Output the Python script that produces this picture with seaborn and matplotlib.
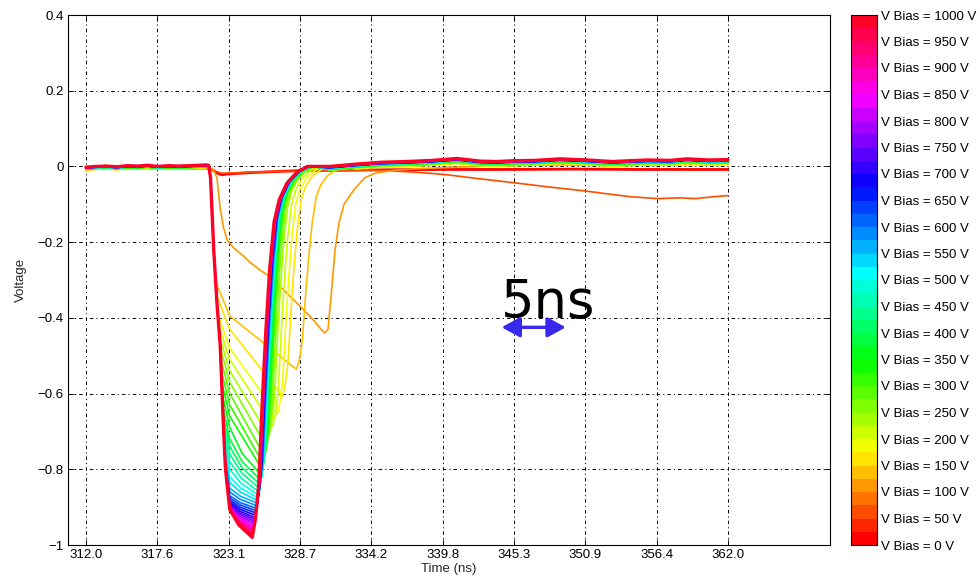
import colorsys
import numpy as np
import pandas as pd
import matplotlib
matplotlib.use("Agg")
import matplotlib.pyplot as plt
import matplotlib.cm as cm
from matplotlib.colors import ListedColormap, Normalize
import seaborn as sns

# ---------------------------------------------------------------- data
# Shared pieces of the pulse shape (time in ns, voltage in V)
pre_t = [312.0, 312.8, 313.6, 314.4, 315.2, 316.0, 316.8, 317.6, 318.4, 319.2, 320.0, 320.8, 321.3]
pre_v = [-0.002, 0.000, 0.001, -0.001, 0.002, 0.001, 0.003, 0.000, 0.002, 0.001, 0.002, 0.003, 0.004]

edge_t = [321.55, 321.70, 321.95, 322.20, 322.45, 322.70, 322.85, 323.05, 323.20]
edge_v = [0.003, -0.03, -0.22, -0.36, -0.47, -0.68, -0.79, -0.87, -0.906]

rise_dt = [0.25, 0.50, 0.80, 1.05, 1.35, 1.70, 2.10, 2.70, 3.50, 4.30]
rise_f = [0.95, 0.86, 0.62, 0.45, 0.28, 0.15, 0.09, 0.045, 0.015, 0.0]

tail_t = [331.0, 333.0, 335.0, 337.0, 339.0, 340.9, 342.7, 344.0, 345.3, 347.0, 348.9,
          351.0, 353.0, 355.7, 357.5, 358.8, 360.5, 362.0]
tail_v = [0.000, 0.006, 0.011, 0.013, 0.016, 0.021, 0.014, 0.013, 0.015, 0.016, 0.020,
          0.017, 0.013, 0.017, 0.016, 0.020, 0.017, 0.018]

# Pulses from 125 V to 1000 V
bias = list(range(125, 1001, 25))
level_at_323 = [-0.395, -0.43, -0.48, -0.51, -0.54, -0.57, -0.60, -0.63, -0.66, -0.69,
                -0.72, -0.74, -0.76, -0.78, -0.80, -0.82, -0.835, -0.85, -0.86, -0.87,
                -0.876, -0.882, -0.887, -0.891, -0.894, -0.897, -0.899, -0.901, -0.902, -0.903,
                -0.904, -0.905, -0.905, -0.906, -0.906, -0.906]
peak_v = [-0.536, -0.607, -0.655, -0.686, -0.713, -0.740, -0.765, -0.785, -0.800, -0.815,
          -0.828, -0.840, -0.850, -0.860, -0.868, -0.875, -0.882, -0.889, -0.896, -0.903,
          -0.909, -0.915, -0.921, -0.927, -0.932, -0.937, -0.942, -0.947, -0.952, -0.956,
          -0.960, -0.964, -0.968, -0.972, -0.976, -0.980]
peak_t = [328.40, 327.30, 326.90, 326.55, 326.25, 326.05, 325.90, 325.80, 325.72, 325.65,
          325.60, 325.55, 325.50, 325.46, 325.42, 325.38, 325.35, 325.32, 325.29, 325.26,
          325.23, 325.20, 325.17, 325.15, 325.13, 325.11, 325.09, 325.07, 325.05, 325.03,
          325.01, 325.00, 324.99, 324.98, 324.96, 324.95]
rise_width = [0.90, 0.85, 0.85, 0.85, 0.85, 0.88, 0.88, 0.90, 0.90, 0.92,
              0.92, 0.92, 0.94, 0.94, 0.94, 0.95, 0.95, 0.95, 0.96, 0.96,
              0.96, 0.97, 0.97, 0.97, 0.98, 0.98, 0.98, 0.98, 0.99, 0.99,
              0.99, 0.99, 1.00, 1.00, 1.00, 1.00]
baseline_off = [-0.013, -0.012, -0.011, -0.010, -0.0095, -0.009, -0.0085, -0.008, -0.0075, -0.007,
                -0.0065, -0.006, -0.0055, -0.005, -0.0048, -0.0045, -0.0042, -0.004, -0.0037, -0.0035,
                -0.0032, -0.003, -0.0027, -0.0025, -0.0022, -0.002, -0.0018, -0.0015, -0.0013, -0.001,
                -0.0008, -0.0006, -0.0004, -0.0002, -0.0001, 0.0]

# Low-bias traces
v0_t = [312.0, 314.0, 316.0, 318.0, 320.0, 321.5, 321.9, 322.3, 322.6, 323.0, 325.0, 328.7,
        332.0, 335.0, 340.0, 345.0, 350.0, 355.0, 360.0, 362.0]
v0_v = [-0.004, -0.003, -0.002, -0.003, -0.002, -0.003, -0.010, -0.019, -0.022, -0.020, -0.016,
        -0.011, -0.010, -0.009, -0.008, -0.008, -0.007, -0.008, -0.008, -0.008]

v50_t = [312.0, 316.0, 320.0, 321.5, 322.0, 322.6, 323.5, 326.0, 330.0, 334.9, 337.5, 339.85,
         342.5, 345.3, 348.0, 350.9, 352.5, 354.4, 356.5, 358.3, 359.5, 360.9, 362.0]
v50_v = [-0.006, -0.005, -0.006, -0.006, -0.012, -0.018, -0.017, -0.014, -0.012, -0.010, -0.015,
         -0.021, -0.032, -0.043, -0.054, -0.065, -0.072, -0.080, -0.085, -0.083, -0.085, -0.080, -0.077]

v100_t = [312.0, 316.0, 320.0, 321.6, 321.9, 322.2, 322.45, 322.7, 323.0, 323.5, 324.2, 324.8,
          325.6, 326.3, 327.5, 328.7, 329.7, 330.3, 330.6, 330.85, 331.1, 331.4, 331.7, 332.1,
          332.8, 333.7, 334.6, 336.0, 338.0, 340.0, 344.0, 348.0, 352.0, 356.0, 360.0, 362.0]
v100_v = [-0.006, -0.005, -0.006, -0.006, -0.008, -0.03, -0.11, -0.16, -0.195, -0.215, -0.235, -0.254,
          -0.275, -0.29, -0.33, -0.37, -0.405, -0.43, -0.44, -0.43, -0.34, -0.22, -0.15, -0.10,
          -0.065, -0.03, -0.017, -0.010, -0.006, -0.003, 0.002, 0.004, 0.004, 0.005, 0.005, 0.006]

x_tick_labels = ["312.0", "317.6", "323.1", "328.7", "334.2", "339.8", "345.3", "350.9", "356.4", "362.0"]
y_ticks = [0.4, 0.2, 0.0, -0.2, -0.4, -0.6, -0.8, -1.0]
y_tick_labels = ["0.4", "0.2", "0", "\u22120.2", "\u22120.4", "\u22120.6", "\u22120.8", "\u22121"]
cbar_ticks = list(range(0, 1001, 50))
scale_ns = 5.0

# ---------------------------------------------------------------- traces
rows = []


def add_trace(volts, ts, vs):
    for t, v in zip(ts, vs):
        rows.append({"t": t, "v": v, "bias": str(volts)})


add_trace(0, v0_t, v0_v)
add_trace(50, v50_t, v50_v)
add_trace(100, v100_t, v100_v)

edge_t_arr = np.array(edge_t)
edge_v_arr = np.array(edge_v)
for V, k323, vm, tm, w, off in zip(bias, level_at_323, peak_v, peak_t, rise_width, baseline_off):
    ts = list(pre_t)
    vs = [p + 0.6 * off for p in pre_v]
    dep = k323 + 0.09
    keep = edge_v_arr > dep
    ts += list(edge_t_arr[keep])
    vs += list(edge_v_arr[keep])
    ts.append(float(np.interp(dep, edge_v_arr[::-1], edge_t_arr[::-1])))
    vs.append(dep)
    ts.append(323.2)
    vs.append(k323)
    # short pulses have a slightly rounded floor, long ones a straight slope
    floor_frac = 0.55 if tm - 323.2 < 2.5 else 0.4
    ts.append(323.2 + 0.4 * (tm - 323.2))
    vs.append(k323 + floor_frac * (vm - k323))
    ts.append(tm)
    vs.append(vm)
    for dt, f in zip(rise_dt, rise_f):
        ts.append(tm + w * dt)
        vs.append(vm * f)
    end = tm + w * rise_dt[-1]
    for t, v in zip(tail_t, tail_v):
        if t > end + 0.6:
            ts.append(t)
            vs.append(v + off)
    add_trace(V, ts, vs)

df = pd.DataFrame(rows)
order = [str(v) for v in [0, 50, 100] + bias]

n_colors = 40
cmap = ListedColormap([colorsys.hsv_to_rgb(i / n_colors, 1.0, 1.0) for i in range(n_colors)])
norm = Normalize(0, 1000)
palette = {k: cmap(norm(float(k))) for k in order}

# ---------------------------------------------------------------- figure
sns.set_theme(style="white")
plt.rcParams["font.family"] = ["Liberation Sans", "DejaVu Sans"]
plt.rcParams["lines.scale_dashes"] = False

fig = plt.figure(figsize=(9.8, 5.8), dpi=100)
ax = fig.add_axes([68 / 980, 35 / 580, 762 / 980, 530 / 580])
cax = fig.add_axes([851 / 980, 35 / 580, 26 / 980, 530 / 580])

sns.lineplot(data=df, x="t", y="v", hue="bias", hue_order=order, palette=palette,
             estimator=None, sort=False, legend=False, linewidth=1.2, ax=ax)
ax.lines[0].set_linewidth(2.0)
ax.lines[-1].set_linewidth(2.4)

x_ticks = np.linspace(312.0, 362.0, len(x_tick_labels))
ax.set_xlim(310.6, 369.95)
ax.set_ylim(-1.0, 0.4)
ax.set_xticks(x_ticks)
ax.set_xticklabels(x_tick_labels)
ax.set_yticks(y_ticks)
ax.set_yticklabels(y_tick_labels)
ax.grid(True, color="black", linestyle=(0, (2.5, 2.2, 0.8, 2.2)), linewidth=0.7)
ax.tick_params(direction="in", length=4, width=0.6, top=True, right=True, bottom=True, left=True,
               labelsize=9.5, colors="black", pad=3)
for s in ax.spines.values():
    s.set_color("black")
    s.set_linewidth(0.8)
ax.set_xlabel("Time (ns)", fontsize=9.5, labelpad=1)
ax.set_ylabel("Voltage", fontsize=9.5, labelpad=8)

# scale marker
cx, cy = 346.87, -0.425
ax.text(348.0, -0.399, "5ns", fontsize=38, family="DejaVu Sans", ha="center", va="baseline",
        color="black")
ax.annotate("", xy=(cx + scale_ns / 2, cy), xytext=(cx - scale_ns / 2, cy),
            arrowprops=dict(arrowstyle="<|-|>,head_length=1.1,head_width=0.6", mutation_scale=10,
                            lw=2.4, color="#3828ee", shrinkA=0, shrinkB=0))

# colour scale for the bias voltage
sm = cm.ScalarMappable(norm=norm, cmap=cmap)
cb = fig.colorbar(sm, cax=cax, ticks=cbar_ticks)
cb.ax.set_yticklabels([f"V Bias = {v} V" for v in cbar_ticks])
cax.tick_params(direction="in", left=True, right=True, length=4, width=0.6, labelsize=9.5,
                colors="black", pad=3)
cb.outline.set_linewidth(0.8)
cb.outline.set_edgecolor("black")

fig.savefig("out.png", dpi=100, facecolor="white")
